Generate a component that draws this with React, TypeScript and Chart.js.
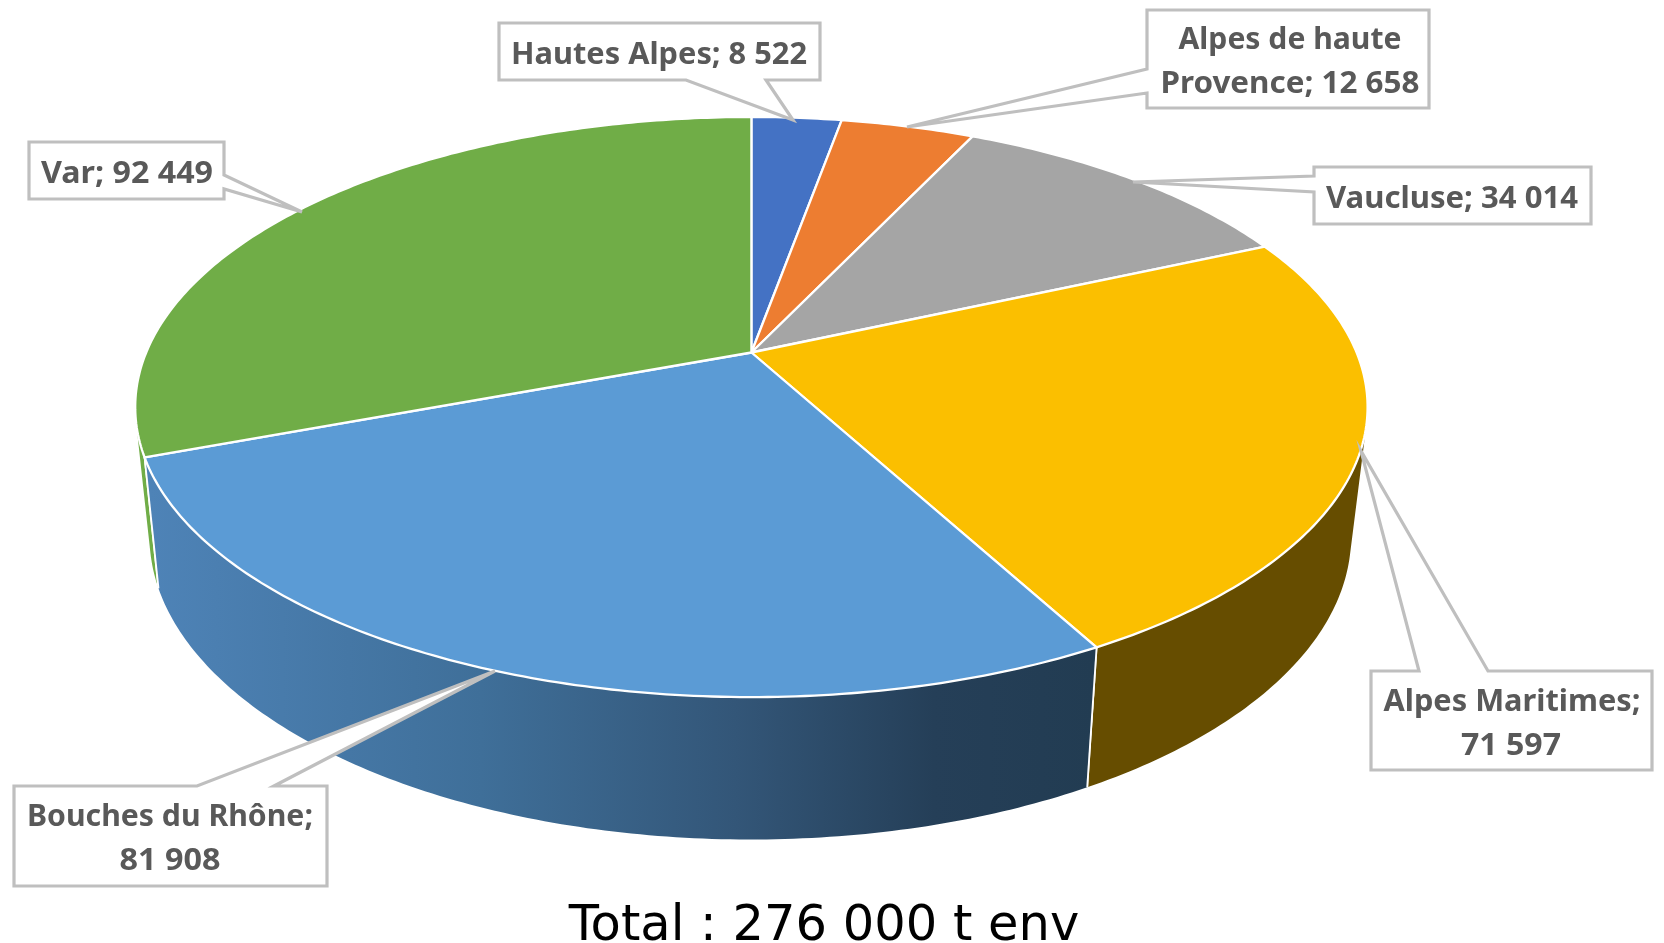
import React, { useEffect, useRef } from "react";
import { Chart, registerables } from "chart.js";

Chart.register(...registerables);

const departments = ["Hautes Alpes", "Alpes de haute Provence", "Vaucluse", "Alpes Maritimes", "Bouches du Rhône", "Var"];
const tonnages = [8522, 12658, 34014, 71597, 81908, 92449];
const topColors = ["#4472C4", "#ED7D31", "#A5A5A5", "#FBBF00", "#5B9BD5", "#70AD47"];
const wallColors = ["#29447a", "#8f4b1d", "#636363", "#664D00", "", "#70AD47"];
const blueWallStops: [number, string][] = [[0, "#4E83B7"], [0.35, "#3F6F99"], [0.62, "#335678"], [0.83, "#253F58"], [1, "#223C52"]];
const caption = "Total : 276 000 t env";

const labelLines = [
  ["Hautes Alpes; 8 522"],
  ["Alpes de haute", "Provence; 12 658"],
  ["Vaucluse; 34 014"],
  ["Alpes Maritimes;", "71 597"],
  ["Bouches du Rhône;", "81 908"],
  ["Var; 92 449"],
];

type Callout = { box: number[]; tip: number[]; a: number[]; b: number[]; lines: { w: number; cx: number; y: number }[] };
const callouts: Callout[] = [
  { box: [499, 23, 820, 80], a: [686, 80], tip: [793, 120], b: [766, 80], lines: [{ w: 296, cx: 659, y: 64 }] },
  { box: [1147, 10, 1429, 108], a: [1147, 69], tip: [907, 127], b: [1147, 93], lines: [{ w: 223, cx: 1290, y: 49 }, { w: 259, cx: 1290, y: 93 }] },
  { box: [1314, 167, 1591, 224], a: [1314, 176], tip: [1133, 182], b: [1314, 192], lines: [{ w: 252, cx: 1452, y: 208 }] },
  { box: [1371, 671, 1652, 770], a: [1419, 671], tip: [1361, 451], b: [1488, 671], lines: [{ w: 257, cx: 1512, y: 711 }, { w: 100, cx: 1511, y: 755 }] },
  { box: [14, 786, 327, 886], a: [197, 786], tip: [495, 671], b: [274, 786], lines: [{ w: 286, cx: 170, y: 826 }, { w: 101, cx: 170, y: 870 }] },
  { box: [29, 142, 224, 199], a: [224, 175], tip: [302, 212], b: [224, 189], lines: [{ w: 172, cx: 127, y: 183 }] },
];

// Perspective projections of the top and bottom discs of the pie.
const TOP = { cx: 751.4, cy: 352.5, rx: 605.2, ry: 279.8, k: 0.188 };
const BASE = { cx: 750.3, cy: 478.6, rx: 590, ry: 292.7, k: 0.189 };

function project(d: typeof TOP, t: number): [number, number] {
  const x = Math.cos(t), y = Math.sin(t), w = 1 - d.k * y;
  return [d.cx + (d.rx * x) / w, d.cy + (d.ry * y) / w];
}

const pie3d = {
  id: "pie3d",
  beforeDatasetsDraw(chart: any) {
    const ctx: CanvasRenderingContext2D = chart.ctx;
    const arcs = chart.getDatasetMeta(0).data;
    const seg = (t0: number, t1: number) => {
      const n = Math.max(2, Math.ceil((t1 - t0) * 80));
      return Array.from({ length: n + 1 }, (_, i) => t0 + ((t1 - t0) * i) / n);
    };
    ctx.save();
    ctx.lineJoin = "round";
    // side walls, back to front: ruled quads, all wound the same way so the limb tangents stay filled
    [5, 2, 1, 0, 3, 4].forEach((i) => {
      const a = arcs[i];
      const ts = seg(a.startAngle, a.endAngle);
      ctx.beginPath();
      for (let j = 0; j < ts.length - 1; j++) {
        const quad = [project(TOP, ts[j]), project(TOP, ts[j + 1]), project(BASE, ts[j + 1]), project(BASE, ts[j])];
        let area = 0;
        quad.forEach((p, m) => {
          const q = quad[(m + 1) % 4];
          area += p[0] * q[1] - q[0] * p[1];
        });
        if (area < 0) quad.reverse();
        quad.forEach((p, m) => (m ? ctx.lineTo(p[0], p[1]) : ctx.moveTo(p[0], p[1])));
        ctx.closePath();
      }
      if (wallColors[i]) ctx.fillStyle = wallColors[i];
      else {
        const g = ctx.createLinearGradient(150, 0, 1095, 0);
        blueWallStops.forEach(([o, c]) => g.addColorStop(o, c));
        ctx.fillStyle = g;
      }
      ctx.fill();
      ctx.strokeStyle = "#ffffff";
      ctx.lineWidth = 1.8;
      [a.startAngle, a.endAngle].forEach((t: number) => {
        const p = project(TOP, t), q = project(BASE, t);
        ctx.beginPath();
        ctx.moveTo(p[0], p[1]);
        ctx.lineTo(q[0], q[1]);
        ctx.stroke();
      });
    });
    // top face
    arcs.forEach((a: any) => {
      const ts = seg(a.startAngle, a.endAngle);
      ctx.beginPath();
      ctx.moveTo(TOP.cx, TOP.cy);
      ts.forEach((t) => { const p = project(TOP, t); ctx.lineTo(p[0], p[1]); });
      ctx.closePath();
      ctx.fillStyle = a.options.backgroundColor;
      ctx.fill();
      ctx.strokeStyle = "#ffffff";
      ctx.lineWidth = 2.3;
      ctx.stroke();
    });
    ctx.restore();
    return false;
  },
  afterDraw(chart: any) {
    const ctx: CanvasRenderingContext2D = chart.ctx;
    ctx.save();
    ctx.lineJoin = "miter";
    callouts.forEach((c, i) => {
      const [x0, y0, x1, y1] = c.box;
      ctx.beginPath();
      if (c.a[0] === x0) {
        ctx.moveTo(x0, y0); ctx.lineTo(x1, y0); ctx.lineTo(x1, y1); ctx.lineTo(x0, y1);
        ctx.lineTo(c.b[0], c.b[1]); ctx.lineTo(c.tip[0], c.tip[1]); ctx.lineTo(c.a[0], c.a[1]);
      } else if (c.a[0] === x1) {
        ctx.moveTo(x0, y0); ctx.lineTo(x1, y0);
        ctx.lineTo(c.a[0], c.a[1]); ctx.lineTo(c.tip[0], c.tip[1]); ctx.lineTo(c.b[0], c.b[1]);
        ctx.lineTo(x1, y1); ctx.lineTo(x0, y1);
      } else if (c.a[1] === y0) {
        ctx.moveTo(x0, y0); ctx.lineTo(c.a[0], c.a[1]); ctx.lineTo(c.tip[0], c.tip[1]); ctx.lineTo(c.b[0], c.b[1]);
        ctx.lineTo(x1, y0); ctx.lineTo(x1, y1); ctx.lineTo(x0, y1);
      } else {
        ctx.moveTo(x0, y0); ctx.lineTo(x1, y0); ctx.lineTo(x1, y1);
        ctx.lineTo(c.b[0], c.b[1]); ctx.lineTo(c.tip[0], c.tip[1]); ctx.lineTo(c.a[0], c.a[1]);
        ctx.lineTo(x0, y1);
      }
      ctx.closePath();
      ctx.fillStyle = "#ffffff";
      ctx.fill();
      ctx.strokeStyle = "#BFBFBF";
      ctx.lineWidth = 3.2;
      ctx.stroke();
      ctx.fillStyle = "#595959";
      ctx.font = "bold 31px 'Noto Sans'";
      ctx.textAlign = "center";
      ctx.textBaseline = "alphabetic";
      labelLines[i].forEach((t, j) => {
        const l = c.lines[j];
        const sx = l.w / ctx.measureText(t).width;
        ctx.save();
        ctx.translate(l.cx, l.y);
        ctx.scale(sx, 1);
        ctx.fillText(t, 0, 0);
        ctx.restore();
      });
    });
    ctx.fillStyle = "#000000";
    ctx.font = "49.5px 'DejaVu Sans'";
    ctx.textAlign = "center";
    ctx.fillText(caption, 824, 940);
    ctx.restore();
  },
};

export default function App() {
  const ref = useRef<HTMLCanvasElement>(null);
  useEffect(() => {
    const chart = new Chart(ref.current!, {
      type: "pie",
      data: {
        labels: departments,
        datasets: [{ data: tonnages, backgroundColor: topColors, borderWidth: 0 }],
      },
      options: {
        animation: false,
        responsive: false,
        plugins: { legend: { display: false }, tooltip: { enabled: false } },
      },
      plugins: [pie3d],
    });
    return () => chart.destroy();
  }, []);
  return (
    <div style={{ position: "absolute", left: 0, top: 0, width: 1664, height: 943, overflow: "hidden", background: "#fff" }}>
      <canvas ref={ref} width={1664} height={943} style={{ display: "block", filter: "blur(0.5px)" }} />
    </div>
  );
}
